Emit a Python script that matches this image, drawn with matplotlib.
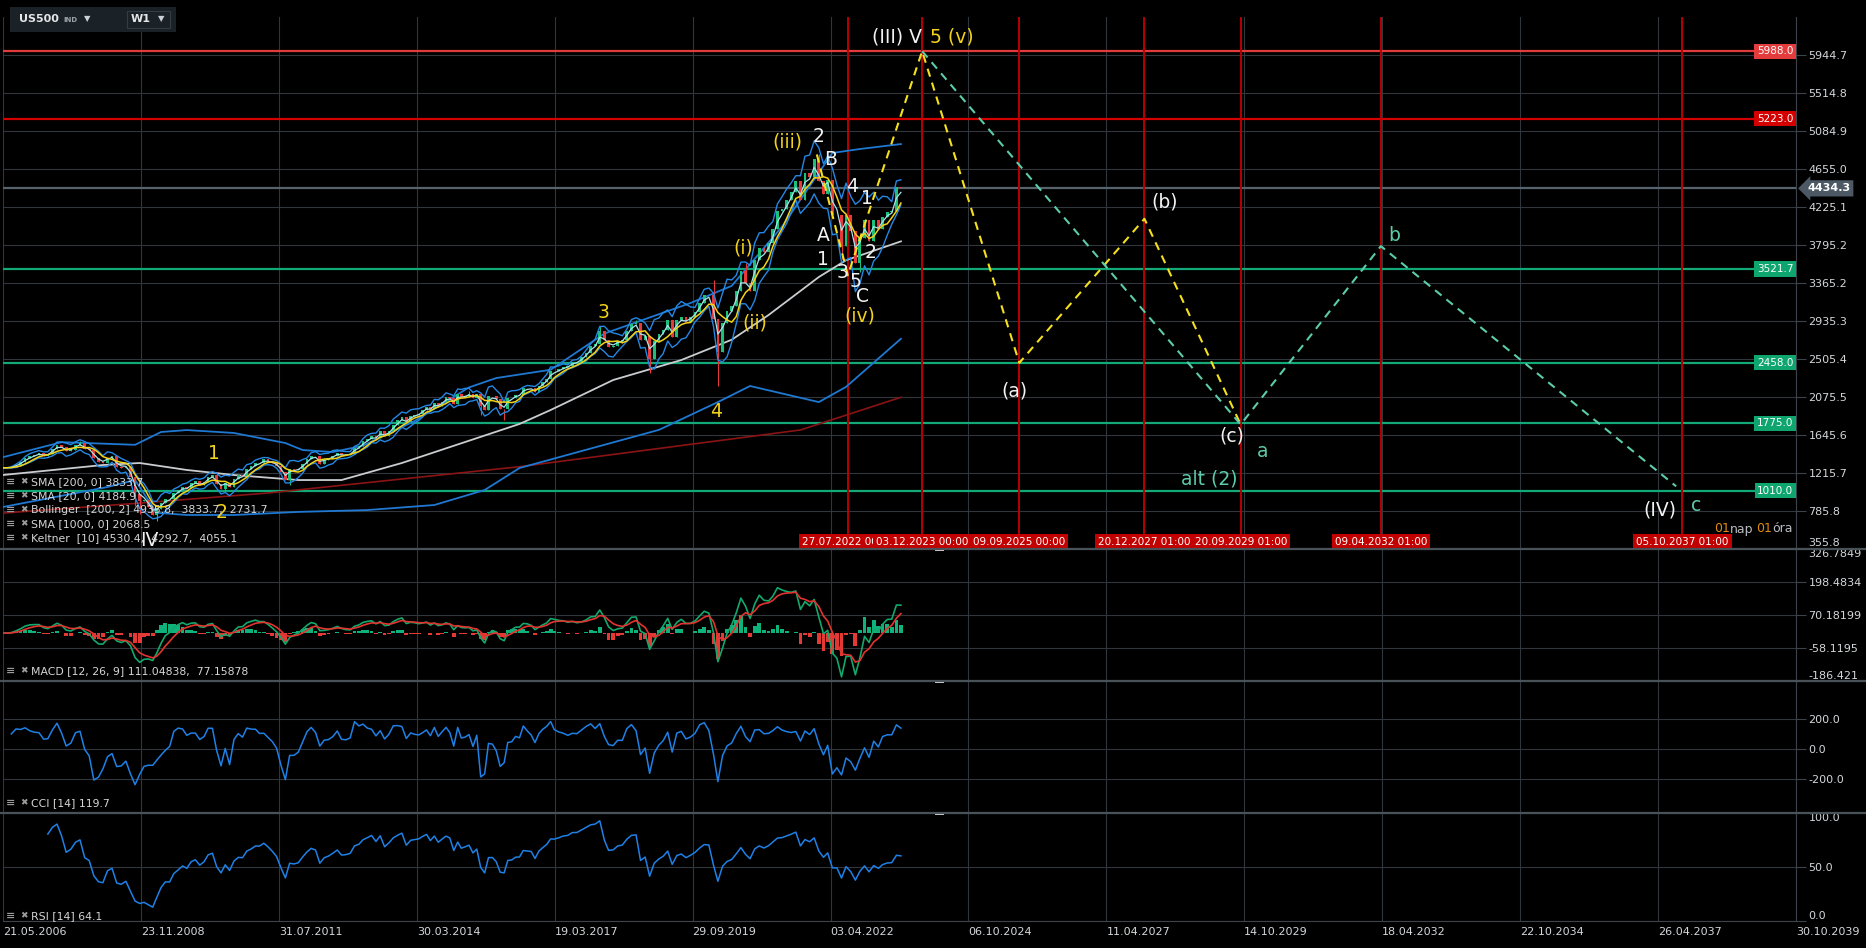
import datetime as dt

import matplotlib
matplotlib.use("Agg")
import matplotlib.pyplot as plt
import matplotlib.transforms as mtransforms
from matplotlib.lines import Line2D
from matplotlib.patches import Rectangle
import numpy as np
import pandas as pd

W, H, DPI = 1866, 948, 100

# ---------------------------------------------------------------- data
# x axis is a weekly bar index, one date label every 131 bars
TICK_DATES = ["21.05.2006", "23.11.2008", "31.07.2011", "30.03.2014", "19.03.2017",
              "29.09.2019", "03.04.2022", "06.10.2024", "11.04.2027", "14.10.2029",
              "18.04.2032", "22.10.2034", "26.04.2037", "30.10.2039"]
BARS_PER_TICK = 131

# US500 monthly closes, May 2006 .. Jul 2023
FIRST_MONTH = (2006, 5)
CLOSES = [
    1270, 1270, 1277, 1304, 1336, 1378, 1401, 1418,
    1438, 1407, 1421, 1482, 1531, 1503, 1455, 1474, 1527, 1549, 1481, 1468,
    1379, 1331, 1323, 1386, 1400, 1280, 1267, 1283, 1166, 969, 896, 903,
    826, 735, 798, 873, 919, 919, 988, 1021, 1057, 1036, 1096, 1115,
    1074, 1104, 1169, 1187, 1089, 1031, 1102, 1049, 1141, 1183, 1181, 1258,
    1286, 1327, 1326, 1364, 1345, 1321, 1292, 1219, 1131, 1253, 1247, 1258,
    1312, 1366, 1408, 1398, 1310, 1362, 1379, 1407, 1441, 1412, 1416, 1426,
    1498, 1515, 1569, 1598, 1631, 1606, 1686, 1633, 1682, 1757, 1806, 1848,
    1783, 1860, 1872, 1884, 1924, 1960, 1931, 2003, 1972, 2018, 2068, 2059,
    1995, 2105, 2068, 2086, 2107, 2063, 2104, 1972, 1920, 2079, 2080, 2044,
    1940, 1932, 2060, 2065, 2097, 2099, 2174, 2171, 2168, 2126, 2199, 2239,
    2279, 2364, 2363, 2384, 2412, 2423, 2470, 2472, 2519, 2575, 2648, 2674,
    2824, 2714, 2641, 2648, 2705, 2718, 2816, 2902, 2914, 2712, 2760, 2507,
    2704, 2784, 2834, 2946, 2752, 2942, 2980, 2926, 2977, 3038, 3141, 3231,
    3226, 2954, 2585, 2912, 3044, 3100, 3271, 3500, 3363, 3270, 3622, 3756,
    3714, 3811, 3973, 4181, 4204, 4298, 4395, 4523, 4308, 4605, 4567, 4766,
    4516, 4374, 4530, 4132, 4132, 3785, 4130, 3955, 3586, 3872, 4080, 3840,
    4077, 3970, 4109, 4169, 4180, 4450, 4434.3,
]
WICK_LOW = {"2008-10": 840, "2008-11": 741, "2009-03": 667, "2010-07": 1011,
            "2011-10": 1075, "2015-08": 1867, "2016-02": 1810, "2018-12": 2347,
            "2020-03": 2192, "2022-06": 3637, "2022-10": 3492}
WICK_HIGH = {"2007-10": 1576, "2015-05": 2135, "2018-01": 2873, "2018-09": 2941,
             "2020-02": 3394, "2020-09": 3588, "2022-01": 4819, "2023-07": 4455}

SMA200_DATES = ["2006-05", "2008-03", "2008-11", "2009-10", "2010-09", "2011-12", "2012-10",
                "2013-12", "2015-04", "2016-06", "2017-02", "2018-04", "2019-07", "2020-06",
                "2021-02", "2022-01", "2022-07", "2023-07"]
SMA200 = [1188, 1301, 1324, 1245, 1188, 1131, 1131, 1324, 1562, 1766, 1924, 2264, 2490,
          2720, 3000, 3430, 3620, 3834]

SMA1000_DATES = ["2006-05", "2008-11", "2011-05", "2016-06", "2021-09", "2023-07"]
SMA1000 = [757, 870, 984, 1282, 1698, 2068]

BB_UP_DATES = ["2006-05", "2007-06", "2008-10", "2009-04", "2009-10", "2010-09", "2011-09",
               "2012-01", "2012-08", "2013-03", "2014-03", "2015-05", "2015-12", "2017-02",
               "2018-02", "2019-09", "2020-06", "2021-05", "2022-04", "2022-10", "2023-07"]
BB_UP = [1390, 1560, 1530, 1675, 1697, 1664, 1550, 1471, 1448, 1520, 1800, 2180, 2286, 2380,
         2790, 3136, 3330, 4000, 4835, 4880, 4936]

BB_LO_DATES = ["2006-05", "2008-04", "2008-10", "2009-03", "2009-10", "2010-09", "2011-12",
               "2013-04", "2014-08", "2015-09", "2016-06", "2019-02", "2020-03", "2020-10",
               "2022-01", "2022-07", "2023-07"]
BB_LO = [826, 1052, 1131, 760, 735, 735, 770, 791, 848, 1018, 1267, 1699, 2014, 2196, 2014,
         2186, 2731]

PRICE_TICKS = [5944.7, 5514.8, 5084.9, 4655.0, 4225.1, 3795.2, 3365.2, 2935.3, 2505.4,
               2075.5, 1645.6, 1215.7, 785.8, 355.8]
MACD_TICKS = [326.7849, 198.4834, 70.18199, -58.1195, -186.421]
MACD_LABELS = ["326.7849", "198.4834", "70.18199", "-58.1195", "-186.421"]
CCI_TICKS = [200.0, 0.0, -200.0]
RSI_TICKS = [100.0, 50.0, 0.0]

RED_LEVELS = [5988.0, 5223.0]
GREEN_LEVELS = [3521.7, 2458.0, 1775.0, 1010.0]
LAST_PRICE = 4434.3

CYCLE_DATES = ["27.07.2022", "03.12.2023", "09.09.2025", "20.12.2027", "20.09.2029",
               "09.04.2032", "05.10.2037"]
CYCLE_TAGS = ["27.07.2022 00:00", "03.12.2023 00:00", "09.09.2025 00:00", "20.12.2027 01:00",
              "20.09.2029 01:00", "09.04.2032 01:00", "05.10.2037 01:00"]

# wave projections
YELLOW_DATES = ["02.01.2022", "27.07.2022", "03.12.2023", "09.09.2025", "20.12.2027", "20.09.2029"]
YELLOW_PRICES = [4818, 3450, 5988, 2458, 4090, 1760]
TEAL_DATES = ["03.12.2023", "20.09.2029", "09.04.2032", "24.08.2037"]
TEAL_PRICES = [5988, 1760, 3780, 1060]

# ---------------------------------------------------------------- helpers
tick_ord = [dt.datetime.strptime(d, "%d.%m.%Y").toordinal() for d in TICK_DATES]
tick_bar = [i * BARS_PER_TICK for i in range(len(TICK_DATES))]
XMAX = tick_bar[-1]


def to_x(d):
    return float(np.interp(d.toordinal(), tick_ord, tick_bar))


def dmy(s):
    return to_x(dt.datetime.strptime(s, "%d.%m.%Y"))


def ym(s):
    y, m = s.split("-")
    return to_x(dt.date(int(y), int(m), 15))


def fx(px):
    return px / W


def fy(py):
    return 1 - py / H


BG = "#000000"
GRID = "#30363c"
AXIS = "#3c434a"
TXT = "#d4d7da"
YEL = "#f2d21c"
TEAL = "#5cccaa"

# ---------------------------------------------------------------- series
months = [dt.date(FIRST_MONTH[0] + (FIRST_MONTH[1] - 1 + i) // 12,
                  (FIRST_MONTH[1] - 1 + i) % 12 + 1, 15) for i in range(len(CLOSES))]
keys = [f"{d.year}-{d.month:02d}" for d in months]
x = np.array([to_x(d) for d in months])
close = pd.Series(CLOSES, dtype=float)
opens = close.shift(1).fillna(close.iloc[0])
hi = np.maximum(opens, close).to_numpy()
lo = np.minimum(opens, close).to_numpy()
hi = np.array([WICK_HIGH.get(k, v) for k, v in zip(keys, hi)])
lo = np.array([WICK_LOW.get(k, v) for k, v in zip(keys, lo)])
up = (close >= opens).to_numpy()
ccol = np.where(up, "#1dbf7a", "#e8393a")

# weekly indicator settings translated to monthly bars
sma20 = close.rolling(5, min_periods=1).mean()
kc_mid = close.ewm(alpha=0.58, adjust=False).mean()
atr = close.diff().abs().rolling(4, min_periods=1).mean().bfill()
kc_up = kc_mid + 1.6 * atr
kc_lo = kc_mid - 1.6 * atr

ema_f = close.ewm(alpha=0.515, adjust=False).mean()
ema_s = close.ewm(alpha=0.284, adjust=False).mean()
macd = ema_f - ema_s
signal = macd.ewm(alpha=0.35, adjust=False).mean()
hist = macd - signal

n_cci = 10
c_mean = close.rolling(n_cci, min_periods=2).mean()
c_mad = close.rolling(n_cci, min_periods=2).apply(lambda v: np.mean(np.abs(v - v.mean())), raw=True)
cci = (close - c_mean) / (0.015 * c_mad)

delta = close.diff()
gain = delta.clip(lower=0).ewm(alpha=0.1, adjust=False).mean()
loss = (-delta.clip(upper=0)).ewm(alpha=0.1, adjust=False).mean()
rsi = 100 - 100 / (1 + gain / loss)
rsi.iloc[:10] = np.nan  # warm-up, no down month yet

# ---------------------------------------------------------------- figure
fig = plt.figure(figsize=(W / DPI, H / DPI), dpi=DPI, facecolor=BG)


def panel(top, bottom, yticks, ylabels, ylim):
    ax = fig.add_axes([fx(3), fy(bottom), fx(1796) - fx(3), (bottom - top) / H])
    ax.set_facecolor(BG)
    ax.set_xlim(0, XMAX)
    ax.set_ylim(*ylim)
    for s in ax.spines.values():
        s.set_visible(False)
    ax.spines["right"].set_visible(True)
    ax.spines["right"].set_color(AXIS)
    ax.set_xticks(tick_bar)
    ax.tick_params(axis="x", length=0, labelbottom=False)
    ax.yaxis.tick_right()
    ax.set_yticks(yticks)
    ax.set_yticklabels(ylabels)
    ax.tick_params(axis="y", length=7, width=0.8, color=AXIS, labelcolor=TXT,
                   labelsize=8, pad=2)
    ax.grid(True, color=GRID, lw=0.8)
    ax.set_axisbelow(True)
    return ax


ax_p = panel(17, 549, PRICE_TICKS, [f"{v:.1f}" for v in PRICE_TICKS], (350, 6375))
ax_m = panel(549, 681, MACD_TICKS, MACD_LABELS, (-186.421, 326.7849))
ax_c = panel(681, 813, CCI_TICKS, [f"{v:.1f}" for v in CCI_TICKS], (-427, 453))
ax_r = panel(813, 921, RSI_TICKS, [f"{v:.1f}" for v in RSI_TICKS], (0, 100))

ax_p.get_yticklabels()[-1].set_va("bottom")
ax_m.get_yticklabels()[0].set_va("top")
ax_m.get_yticklabels()[-1].set_va("bottom")
ax_r.get_yticklabels()[0].set_va("top")
ax_r.get_yticklabels()[-1].set_va("bottom")

ax_r.spines["bottom"].set_visible(True)
ax_r.spines["bottom"].set_color(AXIS)
ax_r.set_xticklabels(TICK_DATES, ha="left")
ax_r.tick_params(axis="x", labelbottom=True, labelsize=8, labelcolor=TXT, pad=4)

# ---------------------------------------------------------------- price panel
for lvl, c in zip(RED_LEVELS, ["#e23b3b", "#d40000"]):
    ax_p.axhline(lvl, color=c, lw=1.6, zorder=2)
for lvl in GREEN_LEVELS:
    ax_p.axhline(lvl, color="#12a877", lw=1.6, zorder=2)
ax_p.axhline(LAST_PRICE, color="#56626c", lw=1.6, zorder=2)
for d in CYCLE_DATES:
    ax_p.axvline(dmy(d), color="#b80000", lw=1.4, zorder=2)

ax_p.plot([ym(d) for d in SMA1000_DATES], SMA1000, color="#8a1414", lw=1.2, zorder=3)
ax_p.plot([ym(d) for d in BB_UP_DATES], BB_UP, color="#1f78d1", lw=1.3, zorder=3)
ax_p.plot([ym(d) for d in BB_LO_DATES], BB_LO, color="#1f78d1", lw=1.3, zorder=3)
ax_p.plot([ym(d) for d in SMA200_DATES], SMA200, color="#c9cdd0", lw=1.3, zorder=3)

ax_p.vlines(x, lo, hi, colors=ccol, lw=0.8, zorder=4)
ax_p.bar(x, (close - opens).to_numpy(), bottom=opens.to_numpy(), width=2.6,
         color=ccol, linewidth=0, zorder=4)
ax_p.plot(x, kc_up, color="#2488e6", lw=1.0, zorder=5)
ax_p.plot(x, kc_lo, color="#2488e6", lw=1.0, zorder=5)
ax_p.plot(x, kc_mid, color="#a8e4ea", lw=0.9, zorder=5)
ax_p.plot(x, sma20, color="#f4d21a", lw=1.1, zorder=5)

ax_p.plot([dmy(d) for d in YELLOW_DATES], YELLOW_PRICES, color="#f5e01e", lw=1.5,
          ls=(0, (4, 3)), zorder=6)
ax_p.plot([dmy(d) for d in TEAL_DATES], TEAL_PRICES, color=TEAL, lw=1.5,
          ls=(0, (4, 3)), zorder=6)

# wave labels
LBL = dict(fontsize=13.5, ha="center", va="center", zorder=8)
for s, bx, py in [("3", 570, 3034), ("4", 677, 1902), ("(i)", 703, 3759),
                  ("(ii)", 714, 2910), ("(iii)", 745, 4959), ("(iv)", 814, 2989),
                  ("1", 200, 1426), ("2", 208, 769)]:
    ax_p.text(bx, py, s, color=YEL, **LBL)
for s, bx, py in [("2", 775, 5027), ("B", 786, 4756), ("4", 806, 4450), ("1", 821, 4314),
                  ("A", 779, 3906), ("1", 779, 3623), ("3", 797, 3476), ("5", 810, 3374),
                  ("2", 824, 3703), ("C", 816, 3215), ("IV", 139, 441),
                  ("(a)", 961, 2140), ("(b)", 1103, 4280), ("(c)", 1167, 1630),
                  ("(IV)", 1574, 792)]:
    ax_p.text(bx, py, s, color="#f2f2f2", **LBL)
for s, bx, py in [("a", 1196, 1449), ("alt (2)", 1146, 1143), ("b", 1321, 3895),
                  ("c", 1608, 848)]:
    ax_p.text(bx, py, s, color=TEAL, **LBL)
ax_p.text(873, 6148, "(III) V", color="#f2f2f2", fontsize=13.5, ha="right", va="center", zorder=8)
ax_p.text(880, 6148, "5 (v)", color=YEL, fontsize=13.5, ha="left", va="center", zorder=8)

# date tags along the bottom of the price panel
bt = mtransforms.blended_transform_factory(ax_p.transData, ax_p.transAxes)
for i in [0, 2, 1, 3, 4, 5, 6]:
    ax_p.text(dmy(CYCLE_DATES[i]), 0.0125, CYCLE_TAGS[i], transform=bt, ha="center",
              va="center", fontsize=7.5, color="white", zorder=9 + i * 0.01,
              bbox=dict(boxstyle="square,pad=0.28", fc="#c20000", ec="none"))

# level tags on the right edge
rt = mtransforms.blended_transform_factory(ax_p.transAxes, ax_p.transData)
for lvl, c in zip(RED_LEVELS, ["#e43c3c", "#d40000"]):
    ax_p.text(0.9985, lvl, f"{lvl:.1f}", transform=rt, ha="right", va="center",
              fontsize=7.5, color="white", zorder=10,
              bbox=dict(boxstyle="square,pad=0.25", fc=c, ec="none"))
for lvl in GREEN_LEVELS:
    ax_p.text(0.9985, lvl, f"{lvl:.1f}", transform=rt, ha="right", va="center",
              fontsize=7.5, color="white", zorder=10,
              bbox=dict(boxstyle="square,pad=0.25", fc="#0fa56f", ec="none"))
ax_p.text(1.0062, LAST_PRICE, f"{LAST_PRICE:.1f}", transform=rt, ha="left", va="center",
          fontsize=8, fontweight="bold", color="white", zorder=10, clip_on=False,
          bbox=dict(boxstyle="larrow,pad=0.28", fc="#4c5863", ec="none"))

# ---------------------------------------------------------------- indicator panels
hcol = np.where(hist.to_numpy() >= 0, "#10b27c", "#e53935")
ax_m.bar(x, hist.to_numpy(), width=3.6, color=hcol, linewidth=0, zorder=3)
ax_m.plot(x, macd, color="#13a86c", lw=1.2, zorder=4)
ax_m.plot(x, signal, color="#e0352e", lw=1.2, zorder=4)
ax_c.plot(x, cci, color="#1f80e6", lw=1.1, zorder=3)
ax_r.plot(x, rsi, color="#1f80e6", lw=1.1, zorder=3)

# ---------------------------------------------------------------- chrome
for py in [549, 681, 813]:
    fig.add_artist(Line2D([0, 1], [fy(py), fy(py)], transform=fig.transFigure,
                          color="#4a5259", lw=1.6))
    fig.add_artist(Rectangle((fx(935), fy(py + 1.5)), fx(9), 3 / H, transform=fig.transFigure,
                             fc="#cfcfcf", ec="none"))

legend_rows = [(482, "SMA [200, 0] 3833.7"), (496, "SMA [20, 0] 4184.9"),
               (510, "Bollinger  [200, 2] 4935.8,  3833.7,  2731.7"),
               (524, "SMA [1000, 0] 2068.5"), (538, "Keltner  [10] 4530.4,  4292.7,  4055.1"),
               (671, "MACD [12, 26, 9] 111.04838,  77.15878"), (803, "CCI [14] 119.7"),
               (916, "RSI [14] 64.1")]
for py, s in legend_rows:
    fig.text(fx(6), fy(py), "≡", fontsize=8, color="#9c9c9c", va="center", fontweight="bold")
    fig.text(fx(20), fy(py), "✖", fontsize=6.5, color="#9c9c9c", va="center")
    fig.text(fx(31), fy(py), s, fontsize=7.8, color="#d6d6d6", va="center")

fig.text(fx(1714), fy(529), "01", fontsize=9, color="#e08a10", va="center")
fig.text(fx(1730), fy(529), "nap", fontsize=9, color="#b8bcc0", va="center")
fig.text(fx(1756), fy(529), "01", fontsize=9, color="#e08a10", va="center")
fig.text(fx(1772), fy(529), "óra", fontsize=9, color="#b8bcc0", va="center")

# symbol box, top left
fig.add_artist(Rectangle((fx(10), fy(32)), fx(166), 25 / H, transform=fig.transFigure,
                         fc="#1a2127", ec="none", zorder=20))
fig.add_artist(Rectangle((fx(127), fy(28)), fx(43), 17 / H, transform=fig.transFigure,
                         fc="#1a2127", ec="#353d44", lw=0.8, zorder=21))
fig.text(fx(19), fy(19.5), "US500", fontsize=8, fontweight="bold", color="#e4e6e8",
         va="center", zorder=22)
fig.text(fx(63), fy(20), "IND", fontsize=5, fontweight="bold", color="#9aa1a7",
         va="center", zorder=22)
fig.text(fx(84), fy(18.5), "▼", fontsize=6, color="#cdd1d5", va="center", zorder=22)
fig.text(fx(131), fy(19.5), "W1", fontsize=8, fontweight="bold", color="#e4e6e8",
         va="center", zorder=22)
fig.text(fx(158), fy(18.5), "▼", fontsize=6, color="#cdd1d5", va="center", zorder=22)

fig.savefig("out.png", dpi=DPI, facecolor=BG)
